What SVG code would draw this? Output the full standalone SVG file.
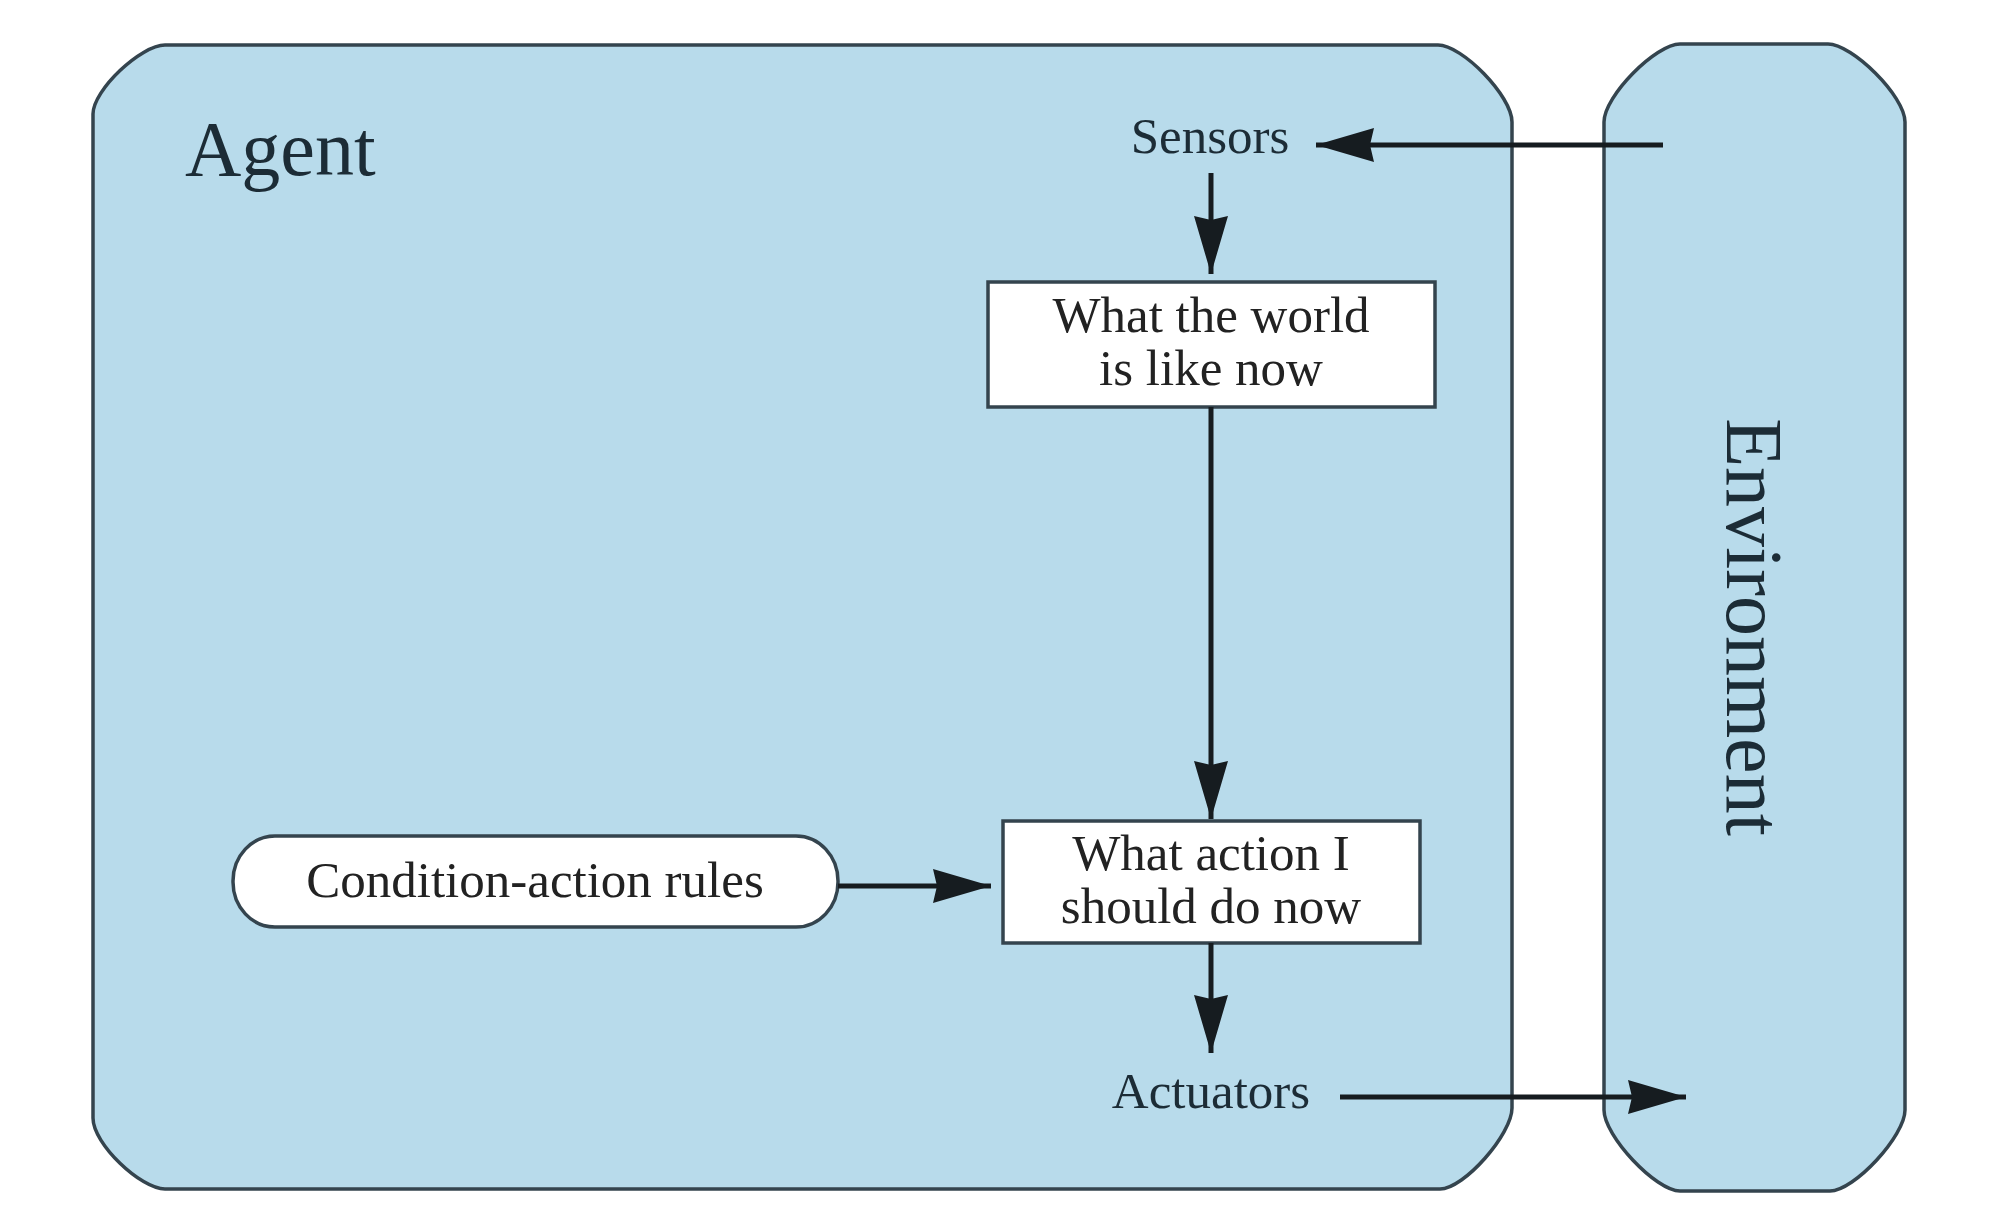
<svg xmlns="http://www.w3.org/2000/svg" width="2008" height="1208" viewBox="0 0 2008 1208">
<style>
.panel{fill:#b8dbeb;stroke:#34444e;stroke-width:3.5}
.box{fill:#ffffff;stroke:#34444e;stroke-width:3.5}
.lbl{font-family:"Liberation Serif","Times New Roman",serif;fill:#1c2c36}
.btxt{font-family:"Liberation Serif","Times New Roman",serif;fill:#222222;font-size:51px;text-anchor:middle}
.conn{stroke:#161c20;stroke-width:5;fill:none;marker-end:url(#ah)}
</style>
<defs>
<marker id="ah" markerUnits="userSpaceOnUse" markerWidth="62" markerHeight="36" refX="58" refY="17" orient="auto">
<path d="M0,0 L58,17 L0,34 L4,17 Z" fill="#161c20"/>
</marker>
</defs>
<rect width="2008" height="1208" fill="#ffffff"/>
<g id="agent">
<path class="panel" d="M165,45 L1438,45 C1462,45 1512,96 1512,122 L1512,1108 C1512,1134 1464,1189 1440,1189 L165,1189 C141,1189 93,1144 93,1118 L93,114 C93,90 141,45 165,45 Z"/>
<text class="lbl" x="185" y="175" font-size="78">Agent</text>
</g>
<g id="environment">
<path class="panel" d="M1680,44 L1828,44 C1852,44 1905,96 1905,122 L1905,1110 C1905,1136 1854,1191 1830,1191 L1680,1191 C1656,1191 1604,1136 1604,1110 L1604,122 C1604,96 1656,44 1680,44 Z"/>
<text class="lbl" font-size="80" text-anchor="middle" transform="translate(1727,627) rotate(90)">Environment</text>
</g>
<g id="sensors">
<text class="lbl" x="1210" y="153" font-size="51" text-anchor="middle">Sensors</text>
</g>
<g id="actuators">
<text class="lbl" x="1211" y="1108" font-size="51" text-anchor="middle">Actuators</text>
</g>
<g id="world-state">
<rect class="box" x="988" y="282" width="447" height="125"/>
<text class="btxt"><tspan x="1211" y="332">What the world</tspan><tspan x="1211" y="385">is like now</tspan></text>
</g>
<g id="action">
<rect class="box" x="1003" y="821" width="417" height="122"/>
<text class="btxt"><tspan x="1211" y="870">What action I</tspan><tspan x="1211" y="923">should do now</tspan></text>
</g>
<g id="rules">
<rect class="box" x="233" y="836" width="605" height="91" rx="42" ry="45"/>
<text class="btxt" x="535" y="897" font-size="52">Condition-action rules</text>
</g>
<g id="connectors">
<line class="conn" x1="1663" y1="145" x2="1316" y2="145"/>
<line class="conn" x1="1211" y1="173" x2="1211" y2="274"/>
<line class="conn" x1="1211" y1="407" x2="1211" y2="819"/>
<line class="conn" x1="838" y1="886" x2="991" y2="886"/>
<line class="conn" x1="1211" y1="943" x2="1211" y2="1053"/>
<line class="conn" x1="1340" y1="1097" x2="1686" y2="1097"/>
</g>
</svg>
